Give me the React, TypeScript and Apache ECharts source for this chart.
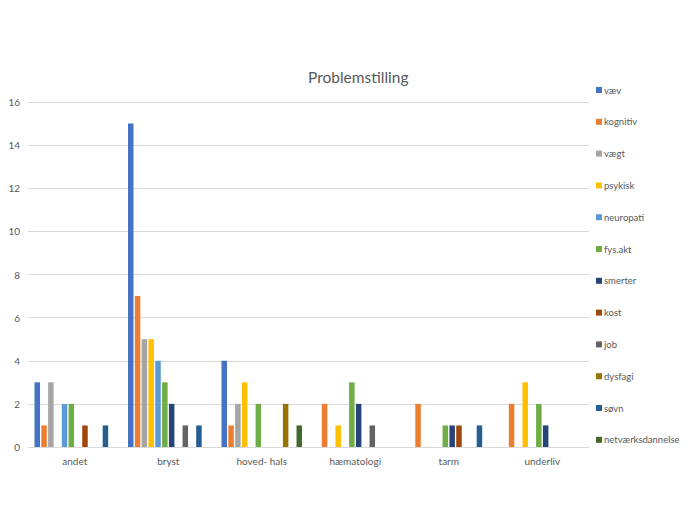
import React, { useEffect, useRef } from "react";
import * as echarts from "echarts";

const categories = ["andet", "bryst", "hoved- hals", "hæmatologi", "tarm", "underliv"];
const seriesNames = ["væv", "kognitiv", "vægt", "psykisk", "neuropati", "fys.akt", "smerter", "kost", "job", "dysfagi", "søvn", "netværksdannelse"];
const colors = ["#4472C4", "#ED7D31", "#A5A5A5", "#FFC000", "#5B9BD5", "#70AD47", "#264478", "#9E480E", "#636363", "#997300", "#255E91", "#43682B"];

const vaev = [3, 15, 4, 0, 0, 0];
const kognitiv = [1, 7, 1, 2, 2, 2];
const vaegt = [3, 5, 2, 0, 0, 0];
const psykisk = [0, 5, 3, 1, 0, 3];
const neuropati = [2, 4, 0, 0, 0, 0];
const fysakt = [2, 3, 2, 3, 1, 2];
const smerter = [0, 2, 0, 2, 1, 1];
const kost = [1, 0, 0, 0, 1, 0];
const job = [0, 1, 0, 1, 0, 0];
const dysfagi = [0, 0, 2, 0, 0, 0];
const soevn = [1, 1, 0, 0, 1, 0];
const netvaerk = [0, 0, 1, 0, 0, 0];

const seriesValues = [vaev, kognitiv, vaegt, psykisk, neuropati, fysakt, smerter, kost, job, dysfagi, soevn, netvaerk];

export default function App() {
  const ref = useRef<HTMLDivElement>(null);
  useEffect(() => {
    if (!ref.current) return;
    const chart = echarts.init(ref.current, undefined, { renderer: "svg" });
    const font = "Lato, 'Open Sans', sans-serif";
    chart.setOption({
      animation: false,
      backgroundColor: "#ffffff",
      title: {
        text: "Problemstilling",
        left: 303,
        top: 64,
        textStyle: { fontSize: 15.5, fontWeight: "normal", color: "#595959", fontFamily: font },
      },
      legend: {
        orient: "vertical",
        left: 591,
        top: 79,
        icon: "rect",
        itemWidth: 6,
        itemHeight: 6,
        itemGap: 19.8,
        textStyle: { fontSize: 9.5, color: "#595959", fontFamily: font, lineHeight: 12, padding: [0, 0, 0, -3] },
        data: seriesNames,
      },
      grid: { left: 28, right: 107, top: 102, bottom: 75, containLabel: false },
      xAxis: {
        type: "category",
        data: categories,
        axisTick: { show: false },
        axisLine: { lineStyle: { color: "#D9D9D9" } },
        axisLabel: { color: "#595959", fontSize: 10, fontFamily: font, margin: 9 },
      },
      yAxis: {
        type: "value",
        min: 0,
        max: 16,
        interval: 2,
        axisLabel: { color: "#595959", fontSize: 10, fontFamily: font, margin: 8 },
        splitLine: { lineStyle: { color: "#D9D9D9" } },
        axisLine: { show: false },
        axisTick: { show: false },
      },
      series: seriesNames.map((name, i) => ({
        name,
        type: "bar",
        data: seriesValues[i],
        barWidth: 5.5,
        barGap: "24%",
        itemStyle: { color: colors[i] },
      })),
    });
    return () => chart.dispose();
  }, []);
  return <div ref={ref} style={{ width: 696, height: 522, margin: -8 }} />;
}
